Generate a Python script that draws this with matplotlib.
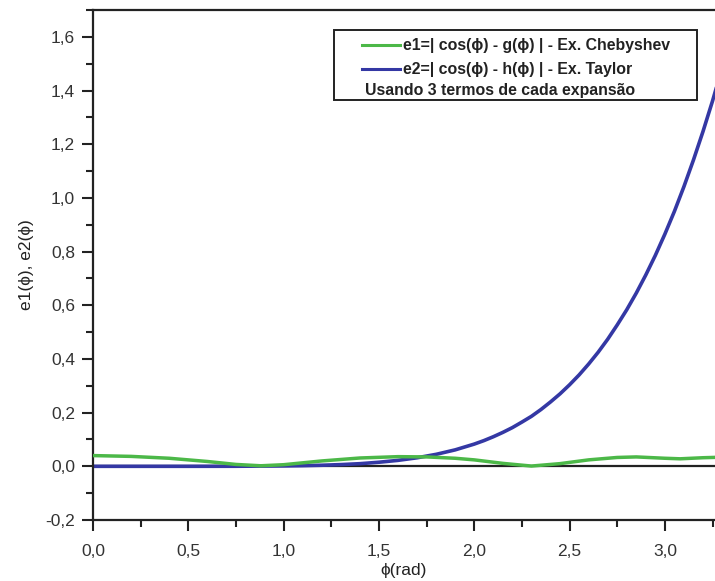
import matplotlib
matplotlib.use("Agg")
import matplotlib.pyplot as plt
from matplotlib.ticker import MultipleLocator, FuncFormatter
from matplotlib.patches import Rectangle
from matplotlib.lines import Line2D

# ---- data ----
phi_taylor = [0.0, 0.25, 0.5, 0.75, 1.0, 1.1, 1.2, 1.3, 1.4, 1.5, 1.6, 1.7, 1.8, 1.9,
              2.0, 2.05, 2.1, 2.15, 2.2, 2.25, 2.3, 2.35, 2.4, 2.45, 2.5, 2.55, 2.6, 2.65,
              2.7, 2.75, 2.8, 2.85, 2.9, 2.95, 3.0, 3.05, 3.1, 3.15, 3.2, 3.25, 3.3]
e2_taylor = [0.0, 0.0, 0.00002, 0.0002, 0.0014, 0.0024, 0.0040, 0.0064, 0.0098, 0.0152,
             0.0222, 0.0318, 0.0446, 0.0613, 0.0828, 0.0956, 0.1102, 0.1264, 0.1442,
             0.1648, 0.1862, 0.2116, 0.2398, 0.2700, 0.3037, 0.3404, 0.3810, 0.4250,
             0.4734, 0.5267, 0.5833, 0.6454, 0.7130, 0.7859, 0.8650, 0.9498, 1.0421,
             1.1413, 1.2474, 1.3610, 1.4840]

phi_cheb = [0.0, 0.2, 0.4, 0.6, 0.75, 0.88, 1.0, 1.2, 1.4, 1.6, 1.75, 1.9, 2.0, 2.15,
            2.3, 2.45, 2.6, 2.75, 2.85, 3.0, 3.08, 3.2, 3.3]
e1_cheb = [0.040, 0.037, 0.030, 0.018, 0.007, 0.002, 0.006, 0.020, 0.031, 0.036, 0.035,
           0.030, 0.024, 0.011, 0.001, 0.010, 0.024, 0.033, 0.035, 0.030, 0.028, 0.032, 0.034]

label_e1 = "e1=| cos(ϕ) - g(ϕ) | - Ex. Chebyshev"
label_e2 = "e2=| cos(ϕ) - h(ϕ) | - Ex. Taylor"
note = "Usando 3 termos de cada expansão"
xlabel = "ϕ(rad)"
ylabel = "e1(ϕ), e2(ϕ)"

green = "#4cb848"
blue = "#3438a4"

plt.rcParams['font.family'] = ['Liberation Sans', 'DejaVu Sans']

fig = plt.figure(figsize=(7.15, 5.81), dpi=100)
ax = fig.add_axes([93/715, 61/581, 622/715, 510/581])

ax.axhline(0, color="#222222", lw=1.6, zorder=1)
ax.plot(phi_cheb, e1_cheb, color=green, lw=2.5, zorder=3)
ax.plot(phi_taylor, e2_taylor, color=blue, lw=2.6, zorder=2)

ax.set_xlim(0, 3.263)
ax.set_ylim(-0.2, 1.7)
ax.spines['right'].set_visible(False)
for s in ['left', 'bottom', 'top']:
    ax.spines[s].set_linewidth(1.6)
    ax.spines[s].set_color("#222222")

ax.xaxis.set_major_locator(MultipleLocator(0.5))
ax.xaxis.set_minor_locator(MultipleLocator(0.25))
ax.yaxis.set_major_locator(MultipleLocator(0.2))
ax.yaxis.set_minor_locator(MultipleLocator(0.1))
fmt = FuncFormatter(lambda v, p: ("%.1f" % v).replace(".", ",").replace("-0,0", "0,0"))
ax.xaxis.set_major_formatter(fmt)
ax.yaxis.set_major_formatter(fmt)
ax.tick_params(which='major', direction='out', length=8, width=1.5, labelsize=12.5,
               color="#222222", labelcolor="#333333", pad=5)
ax.tick_params(axis='x', which='major', pad=9)
ax.tick_params(which='minor', direction='out', length=5, width=1.5, color="#222222")
ax.tick_params(top=False, right=False, which='both')

ax.set_xlabel(xlabel, fontsize=12.5, color="#222222", labelpad=3)
ax.set_ylabel(ylabel, fontsize=12.5, color="#222222", labelpad=8)

# legend box
ax.add_patch(Rectangle((0.387, 0.824), 0.584, 0.137, transform=ax.transAxes,
                       fill=True, facecolor="white", edgecolor="#222222", lw=1.4, zorder=5))
ax.add_line(Line2D([0.432, 0.494], [0.931, 0.931], transform=ax.transAxes,
                   color=green, lw=2.2, zorder=6))
ax.add_line(Line2D([0.432, 0.494], [0.884, 0.884], transform=ax.transAxes,
                   color=blue, lw=2.2, zorder=6))
ax.text(0.499, 0.930, label_e1, transform=ax.transAxes, fontsize=11.4, fontweight='bold',
        va='center', ha='left', color="#222222", zorder=7)
ax.text(0.499, 0.883, label_e2, transform=ax.transAxes, fontsize=11.4, fontweight='bold',
        va='center', ha='left', color="#222222", zorder=7)
ax.text(0.437, 0.843, note, transform=ax.transAxes, fontsize=11.4, fontweight='bold',
        va='center', ha='left', color="#222222", zorder=7)

fig.savefig("out.png", dpi=100)
